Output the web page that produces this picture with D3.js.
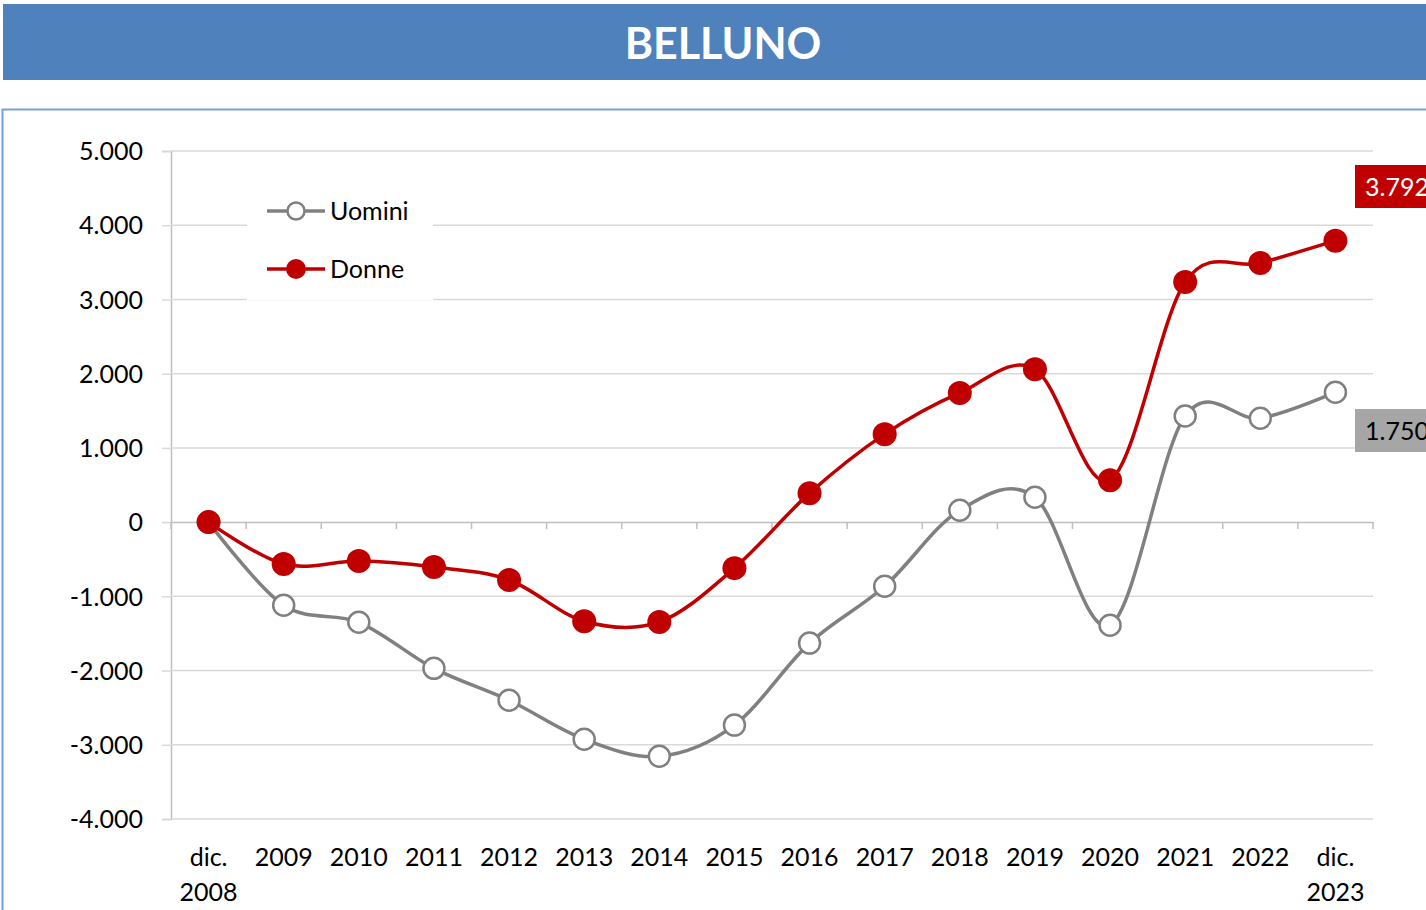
<!DOCTYPE html>
<html><head><meta charset="utf-8">
<script src="https://cdn.jsdelivr.net/npm/d3@7"></script>
<style>html,body{margin:0;padding:0;background:#fff;overflow:hidden}svg{display:block}</style>
</head><body>
<svg id="c" width="1426" height="910"></svg>
<script>
const categories = ["dic.\n2008","2009","2010","2011","2012","2013","2014","2015","2016","2017","2018","2019","2020","2021","2022","dic.\n2023"];
const uomini = [0,-1120,-1350,-1970,-2400,-2925,-3155,-2735,-1630,-865,160,335,-1390,1430,1400,1750];
const donne  = [0,-565,-525,-605,-780,-1335,-1345,-620,390,1185,1740,2060,565,3235,3490,3792];
const yTicks = [-4000,-3000,-2000,-1000,0,1000,2000,3000,4000,5000];
const seriesNames = ["Uomini","Donne"];
const title = "BELLUNO";

const FONT = "Lato, 'Open Sans', sans-serif";
const FS = 25;
const svg = d3.select("#c");
const W = 1426, H = 910;
const loc = d3.formatLocale({decimal:",", thousands:".", grouping:[3], currency:["€",""], minus:"-"});
const fmt = loc.format(",");

// title bar
svg.append("rect").attr("x",3).attr("y",4).attr("width",W-3).attr("height",76).attr("fill","#4F81BD");
svg.append("text").attr("x",723).attr("y",59).attr("text-anchor","middle")
  .attr("font-family",FONT).attr("font-weight","bold").attr("font-size",43).attr("fill","#fff").text(title);

// chart frame
svg.append("rect").attr("x",2.5).attr("y",109.5).attr("width",W+10).attr("height",H).attr("fill","#fff")
  .attr("stroke","#7BA0D3").attr("stroke-width",2);

const L = 171, R = 1373, T = 151, B = 819;
const x = d3.scaleBand().domain(categories).range([L,R]);
const y = d3.scaleLinear().domain([-4000,5000]).range([B,T]);
const cx = d => x(d) + x.bandwidth()/2;

// gridlines + y axis
const yAxis = d3.axisLeft(y).tickValues(yTicks).tickSize(9).tickFormat(fmt);
const gy = svg.append("g").attr("transform",`translate(${L},0)`).call(yAxis);
gy.select(".domain").attr("stroke","#BFBFBF").attr("stroke-width",1.5);
gy.selectAll(".tick line").attr("stroke","#D9D9D9").attr("stroke-width",1.5);
gy.selectAll(".tick text").attr("font-family",FONT).attr("font-size",FS).attr("fill","#000").attr("x",-28).attr("dy","0.35em");
svg.append("g").selectAll("line").data(yTicks.filter(v=>v!==0)).join("line")
  .attr("x1",L).attr("x2",R).attr("y1",d=>y(d)).attr("y2",d=>y(d)).attr("stroke","#D9D9D9").attr("stroke-width",1.5);

// zero axis with ticks at band boundaries
const gx = svg.append("g").attr("transform",`translate(0,${y(0)})`)
  .call(d3.axisBottom(x).tickSize(0).tickFormat(""));
gx.select(".domain").attr("stroke","#BFBFBF").attr("stroke-width",1.5);
const bounds = categories.map(c=>x(c)).concat([R]);
gx.selectAll("line.bt").data(bounds).join("line").attr("class","bt")
  .attr("x1",d=>d).attr("x2",d=>d).attr("y1",0).attr("y2",7).attr("stroke","#BFBFBF").attr("stroke-width",1.5);

// category labels at bottom
const lab = svg.append("g").selectAll("text").data(categories).join("text")
  .attr("x",d=>cx(d)).attr("y",866).attr("text-anchor","middle")
  .attr("font-family",FONT).attr("font-size",FS).attr("fill","#000");
lab.each(function(d){
  const parts = d.split("\n");
  const t = d3.select(this);
  parts.forEach((p,i)=>t.append("tspan").attr("x",cx(d)).attr("dy",i?35:0).text(p));
});

// lines
const line = d3.line().x((d,i)=>cx(categories[i])).y(d=>y(d)).curve(d3.curveCatmullRom.alpha(0));
svg.append("path").datum(uomini).attr("d",line).attr("fill","none").attr("stroke","#808080").attr("stroke-width",3.5);
svg.append("path").datum(donne).attr("d",line).attr("fill","none").attr("stroke","#C00000").attr("stroke-width",3.5);
svg.append("g").selectAll("circle").data(uomini).join("circle")
  .attr("cx",(d,i)=>cx(categories[i])).attr("cy",d=>y(d)).attr("r",10.5)
  .attr("fill","#fff").attr("stroke","#808080").attr("stroke-width",2.5);
svg.append("g").selectAll("circle").data(donne).join("circle")
  .attr("cx",(d,i)=>cx(categories[i])).attr("cy",d=>y(d)).attr("r",12)
  .attr("fill","#C00000");

// end labels
function endLabel(v, yc, bg, fg){
  const g = svg.append("g");
  g.append("rect").attr("x",1355).attr("y",yc-21.5).attr("width",90).attr("height",43).attr("fill",bg);
  g.append("text").attr("x",1365).attr("y",yc).attr("dy","0.36em").attr("font-family",FONT).attr("font-size",FS).attr("fill",fg).text(fmt(v));
}
endLabel(donne[donne.length-1], 186.5, "#C00000", "#fff");
endLabel(uomini[uomini.length-1], 430.5, "#A6A6A6", "#000");

// legend
const lg = svg.append("g");
lg.append("rect").attr("x",247).attr("y",190).attr("width",186).attr("height",110).attr("fill","#fff");
const items = [{n:seriesNames[0],c:"#808080",f:"#fff",r:8.5,sw:2.5,yy:211},{n:seriesNames[1],c:"#C00000",f:"#C00000",r:10,sw:0,yy:269}];
items.forEach(it=>{
  lg.append("line").attr("x1",267).attr("x2",325).attr("y1",it.yy).attr("y2",it.yy).attr("stroke",it.c).attr("stroke-width",3.5);
  lg.append("circle").attr("cx",296).attr("cy",it.yy).attr("r",it.r).attr("fill",it.f).attr("stroke",it.c).attr("stroke-width",it.sw);
  lg.append("text").attr("x",330).attr("y",it.yy).attr("dy","0.36em").attr("font-family",FONT).attr("font-size",FS).attr("fill","#000").text(it.n);
});
</script>
</body></html>
